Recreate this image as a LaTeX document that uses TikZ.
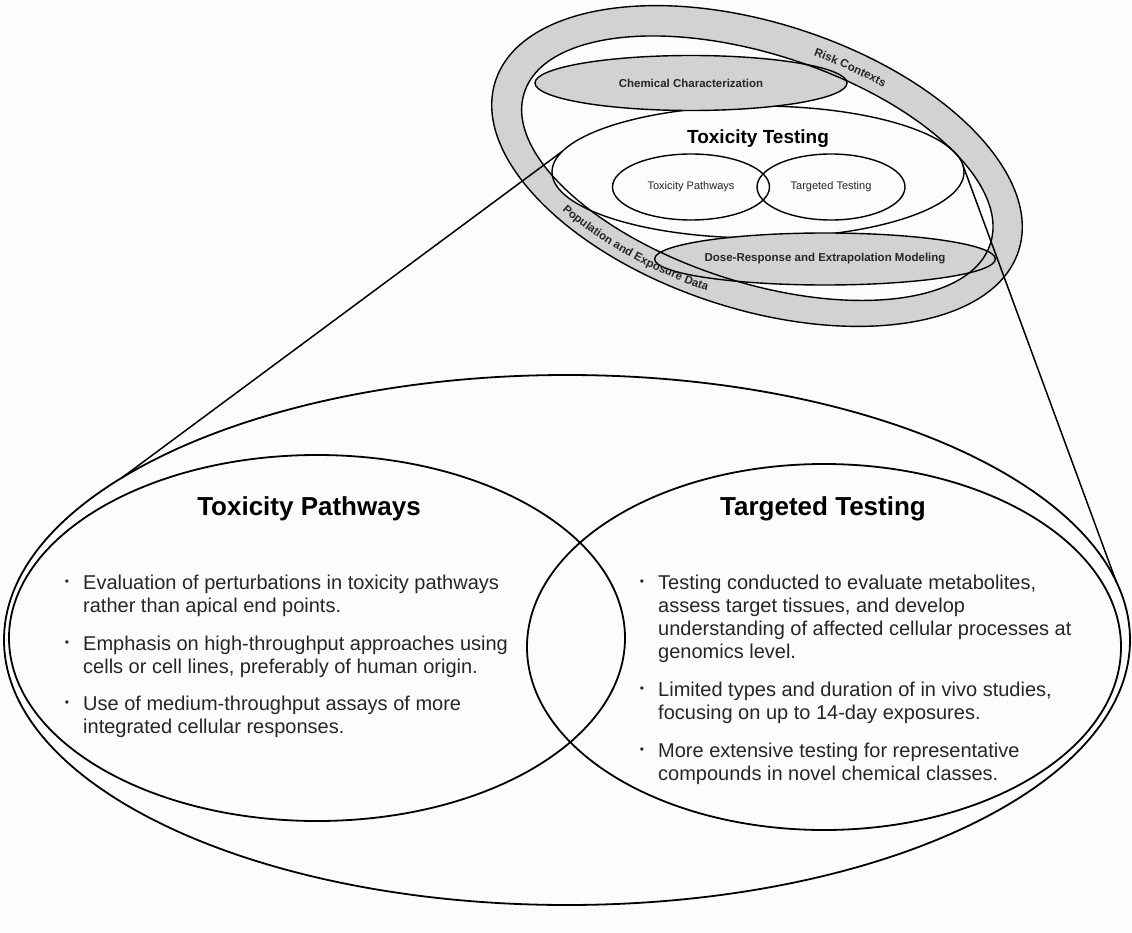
\documentclass[tikz,border=0pt]{standalone}
\usepackage{fontspec}
\setmainfont{Liberation Sans}
\usetikzlibrary{shapes.geometric,decorations.text}
\definecolor{ringgray}{HTML}{D2D2D2}
\definecolor{bg}{HTML}{FCFCFC}
\definecolor{txt}{HTML}{262626}
\begin{document}
\begin{tikzpicture}[x=1pt,y=-1pt,
  bigell/.style={draw=black, line width=1.8pt, ellipse, inner sep=0pt, outer sep=0pt},
  topell/.style={draw=black, line width=1.4pt, ellipse, inner sep=0pt, outer sep=0pt},
  ringline/.style={draw=black, line width=1.4pt},
  zoomline/.style={draw=black, line width=1.5pt},
  btext/.style={anchor=base west, font=\fontsize{20}{23}\selectfont, text=txt, inner sep=0pt},
  bdot/.style={anchor=base, font=\fontsize{12}{12}\selectfont, text=txt, inner sep=0pt},
  bigtitle/.style={anchor=base, font=\bfseries\fontsize{26}{30}\selectfont, text=black, inner sep=0pt},
  smalltxt/.style={font=\fontsize{11}{13}\selectfont, text=txt},
  smallbold/.style={font=\bfseries\fontsize{11.5}{13}\selectfont, text=txt, inner sep=0pt},
  ringtext/.style={decorate, decoration={text along path, text align=center,
     text={|\color{txt}\bfseries\fontsize{11.5}{13}\selectfont|#1}}},
]
\fill[bg] (0,0) rectangle (1132,933);
\useasboundingbox (0,0) rectangle (1132,933);

% ---------- bottom (zoomed) part ----------
\node[bigell, minimum width=1126, minimum height=530] (big) at (567,640) {};
\node[bigell, minimum width=616, minimum height=366] (tp) at (317,638) {};
\node[bigell, minimum width=594, minimum height=366] (tt) at (824,647) {};

\node[bigtitle] (tptitle) at (309,515) {Toxicity Pathways};
\node[bigtitle] (tttitle) at (823,515) {Targeted Testing};

% left bullets
\node[bdot] (lb1) at (67,585) {\textbullet};
\node[btext] (l1a) at (83,589) {Evaluation of perturbations in toxicity pathways};
\node[btext] (l1b) at (83,612) {rather than apical end points.};
\node[bdot] (lb2) at (67,646) {\textbullet};
\node[btext] (l2a) at (83,650) {Emphasis on high-throughput approaches using};
\node[btext] (l2b) at (83,673) {cells or cell lines, preferably of human origin.};
\node[bdot] (lb3) at (67,706) {\textbullet};
\node[btext] (l3a) at (83,710) {Use of medium-throughput assays of more};
\node[btext] (l3b) at (83,733) {integrated cellular responses.};

% right bullets
\node[bdot] (rb1) at (642,585) {\textbullet};
\node[btext] (r1a) at (658,589) {Testing conducted to evaluate metabolites,};
\node[btext] (r1b) at (658,612) {assess target tissues, and develop};
\node[btext] (r1c) at (658,635) {understanding of affected cellular processes at};
\node[btext] (r1d) at (658,658) {genomics level.};
\node[bdot] (rb2) at (642,692) {\textbullet};
\node[btext] (r2a) at (658,696) {Limited types and duration of in vivo studies,};
\node[btext] (r2b) at (658,719) {focusing on up to 14-day exposures.};
\node[bdot] (rb3) at (642,753) {\textbullet};
\node[btext] (r3a) at (658,757) {More extensive testing for representative};
\node[btext] (r3b) at (658,780) {compounds in novel chemical classes.};

% ---------- top (overview) part ----------
\fill[ringgray, even odd rule]
  [shift={(757,166)}, rotate=-18] (0,0) ellipse [x radius=275, y radius=143]
  [shift={(1,2)}] (0,0) ellipse [x radius=245, y radius=114];

\node[topell, fill=bg, minimum width=412, minimum height=132] (ttop) at (758,172) {};
\node[font=\bfseries\fontsize{19}{22}\selectfont, text=black] (ttoptitle) at (758,139) {Toxicity Testing};
\node[topell, minimum width=157, minimum height=66, smalltxt] (stp) at (691,187) {Toxicity Pathways};
\node[topell, minimum width=148, minimum height=66, smalltxt] (stt) at (831,187) {Targeted Testing};
\node[topell, fill=ringgray, minimum width=312, minimum height=55, smallbold] (cc) at (691,83) {Chemical Characterization};
\node[topell, fill=ringgray, minimum width=315, minimum height=52, smallbold] (dose) at (825,259) {Dose-Response and Extrapolation Modeling};

\draw[ringline]
  [shift={(757,166)}, rotate=-18] (0,0) ellipse [x radius=275, y radius=143]
  [shift={(1,2)}] (0,0) ellipse [x radius=245, y radius=114];

% ring labels, set along the middle of the ring
\path[ringtext={Risk Contexts}]
  plot[domain=-110:-40, samples=40, smooth]
  ({757.5 + 255*cos(\x)*0.951 - 123.5*sin(\x)*0.309},
   {167 + 255*cos(\x)*0.309 + 123.5*sin(\x)*0.951});
\path[ringtext={Population and Exposure Data}]
  plot[domain=162:70, samples=40, smooth]
  ({757.5 + 265*cos(\x)*0.951 - 133.5*sin(\x)*0.309},
   {167 + 265*cos(\x)*0.309 + 133.5*sin(\x)*0.951});

% zoom lines
\draw[zoomline] (ttop.174) -- (big.160);
\draw[zoomline] (ttop.2) -- (big.6);
\end{tikzpicture}
\end{document}
